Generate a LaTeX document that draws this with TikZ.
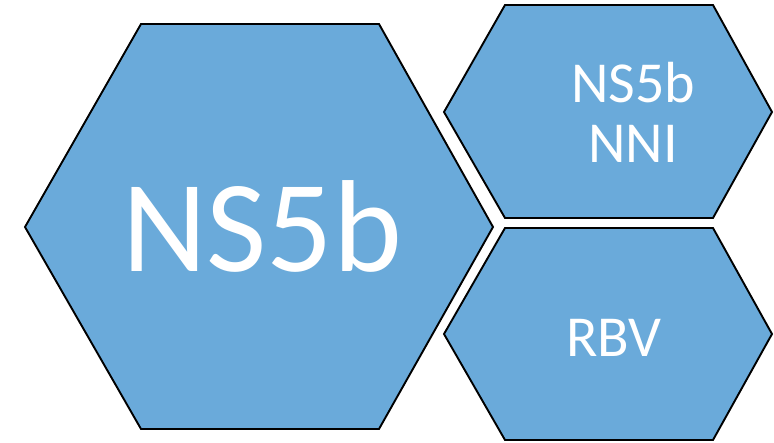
\documentclass[tikz,border=0pt]{standalone}
\usepackage{fontspec}
\setmainfont{Carlito}
\definecolor{hexblue}{RGB}{106,170,218}
\begin{document}
\begin{tikzpicture}[x=1pt,y=-1pt,
  hexcell/.style={fill=hexblue,draw=black,line width=1.9pt,line join=miter},
  hexlabel/.style={text=white,inner sep=0pt,anchor=base,align=center}]
\useasboundingbox (0,0) rectangle (774,443);
% large cell
\draw[hexcell] (25,227) -- (141,24) -- (379,24) -- (493,227) -- (379,429) -- (141,429) -- cycle;
% upper right cell
\draw[hexcell] (444,112) -- (505,5) -- (713,5) -- (772,112) -- (713,218) -- (505,218) -- cycle;
% lower right cell
\draw[hexcell] (444,334) -- (505,228) -- (713,228) -- (772,334) -- (713,440) -- (505,440) -- cycle;
\node[hexlabel,font=\fontsize{131}{131}\selectfont] (big) at (262,272) {NS5b};
\node[hexlabel,font=\fontsize{58}{60}\selectfont] (nni) at (633,163) {NS5b\\NNI};
\node[hexlabel,font=\fontsize{58}{60}\selectfont] (rbv) at (614,357) {RBV};
\end{tikzpicture}
\end{document}
